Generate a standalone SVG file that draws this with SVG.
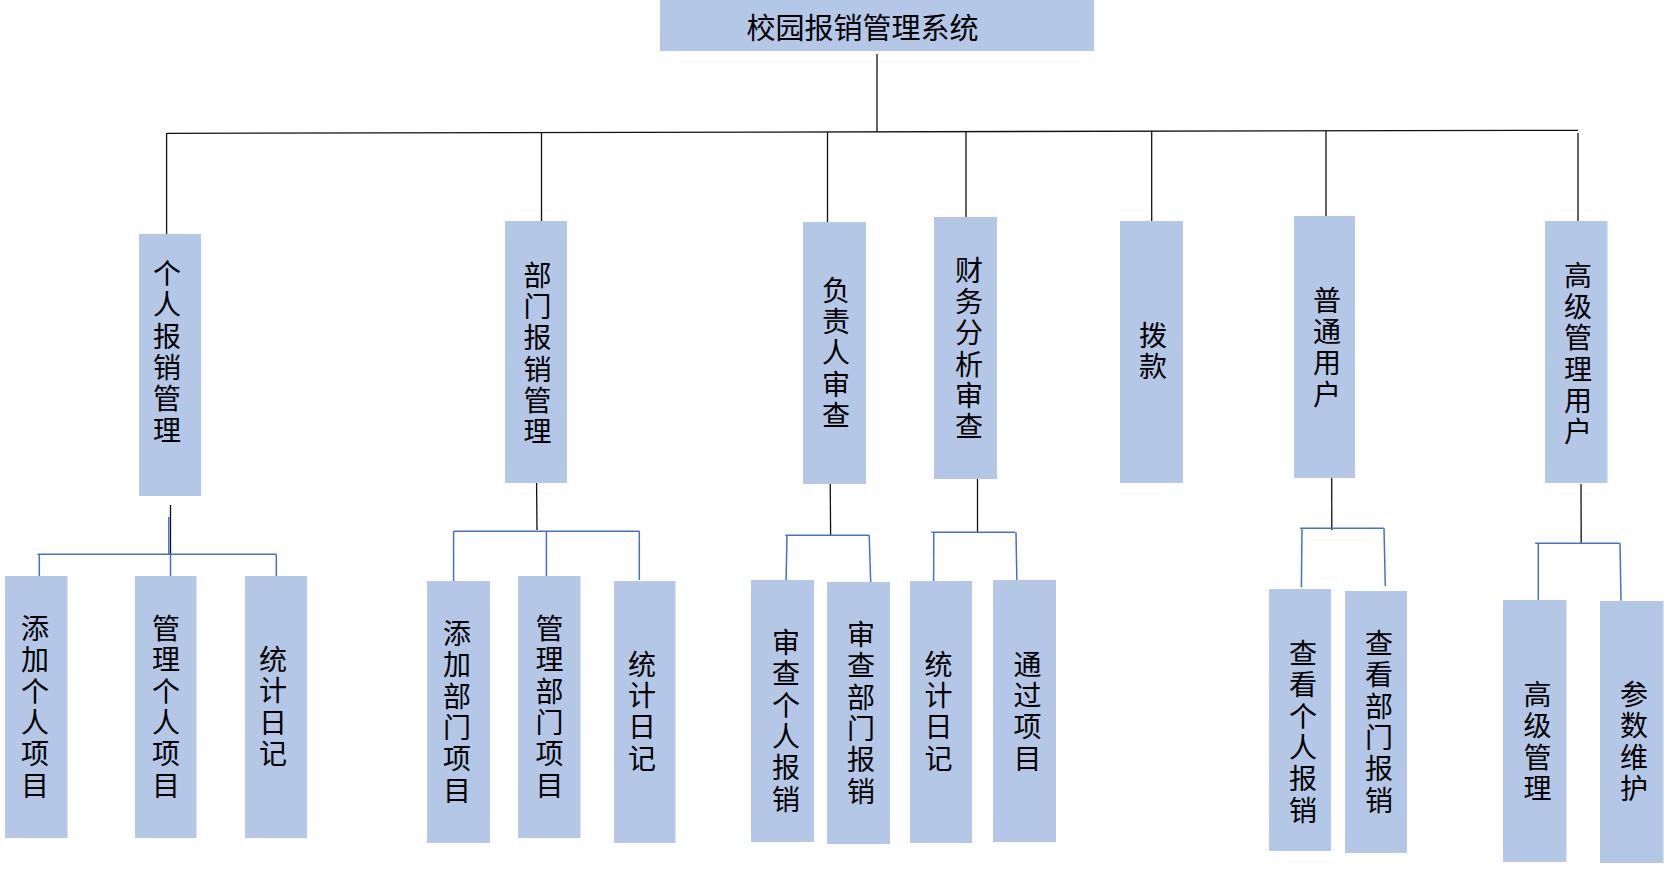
<svg xmlns="http://www.w3.org/2000/svg" width="1675" height="896" viewBox="0 0 1675 896">
<style>
.box{fill:#B4C7E7}
.t{font-family:"Noto Sans CJK SC","Noto Sans CJK TC",sans-serif;font-size:28px;fill:#000;text-anchor:middle}
.v{font-family:"Noto Sans CJK SC","Noto Sans CJK TC",sans-serif;font-size:28px;fill:#000;writing-mode:vertical-rl;text-orientation:upright;letter-spacing:3.3px}
.k{stroke:#111;stroke-width:1.3;fill:none}
.b{stroke:#4472C4;stroke-width:1.5;fill:none}
</style>
<rect width="1675" height="896" fill="#fff"/>
<g id="connectors">
<line class="k" x1="877" y1="54" x2="877" y2="132"/>
<line class="k" x1="167" y1="133.3" x2="1578" y2="130.3"/>
<line class="k" x1="166.6" y1="133" x2="166.6" y2="235"/>
<line class="k" x1="541.5" y1="133" x2="541.5" y2="222"/>
<line class="k" x1="827.5" y1="132" x2="827.5" y2="235"/>
<line class="k" x1="966" y1="132" x2="966" y2="223"/>
<line class="k" x1="1151.7" y1="131" x2="1151.7" y2="222"/>
<line class="k" x1="1326" y1="131" x2="1326" y2="224"/>
<line class="k" x1="1578" y1="133" x2="1578" y2="222"/>
<line class="k" x1="170.5" y1="505" x2="170.5" y2="555"/>
<line class="b" x1="168.8" y1="517" x2="168.8" y2="554"/>
<line class="b" x1="37.5" y1="554.3" x2="276.3" y2="554.3"/>
<line class="b" x1="39.3" y1="554.3" x2="39.3" y2="592.3"/>
<line class="b" x1="170.5" y1="554.3" x2="170.5" y2="593"/>
<line class="b" x1="276.3" y1="554.3" x2="276.3" y2="576.7"/>
<line class="k" x1="536.5" y1="474" x2="537" y2="530"/>
<line class="b" x1="453.6" y1="531.3" x2="639.3" y2="531.3"/>
<line class="b" x1="453.6" y1="531.3" x2="453.6" y2="587.7"/>
<line class="b" x1="546.4" y1="531.3" x2="546.4" y2="577.7"/>
<line class="b" x1="639.3" y1="531.3" x2="639.3" y2="580"/>
<line class="k" x1="830.2" y1="477" x2="830.6" y2="535"/>
<line class="b" x1="785.2" y1="535.3" x2="869.2" y2="535.3"/>
<line class="b" x1="787" y1="535.3" x2="785.8" y2="594.3"/>
<line class="b" x1="869.2" y1="535.3" x2="871" y2="592.7"/>
<line class="k" x1="977.5" y1="474.3" x2="977.5" y2="532.3"/>
<line class="b" x1="931.3" y1="532.3" x2="1015.3" y2="532.3"/>
<line class="b" x1="933.8" y1="532.3" x2="933.6" y2="591"/>
<line class="b" x1="1016" y1="532.3" x2="1017" y2="589.3"/>
<line class="k" x1="1331.7" y1="471.7" x2="1331.8" y2="530"/>
<line class="b" x1="1300.1" y1="528.3" x2="1383.5" y2="528.3"/>
<line class="b" x1="1302" y1="528.3" x2="1301.4" y2="587.3"/>
<line class="b" x1="1384" y1="528.3" x2="1385.3" y2="586"/>
<line class="k" x1="1581" y1="484" x2="1581.2" y2="543.3"/>
<line class="b" x1="1535.2" y1="543.3" x2="1619.8" y2="543.3"/>
<line class="b" x1="1538.3" y1="543.3" x2="1538.3" y2="602.3"/>
<line class="b" x1="1620" y1="543.3" x2="1621" y2="600.7"/>
</g>
<g id="root">
<rect class="box" x="660" y="0" width="434" height="51"/>
<text class="t" x="862.5" y="39" style="font-size:29px">校园报销管理系统</text>
</g>
<g id="n1"><rect class="box" x="139" y="234" width="62" height="262"/><text class="v" x="167" y="259.5">个人报销管理</text></g>
<g id="n2"><rect class="box" x="505" y="221" width="62" height="262"/><text class="v" x="537.5" y="261">部门报销管理</text></g>
<g id="n3"><rect class="box" x="803" y="222" width="63" height="262"/><text class="v" x="836" y="276">负责人审查</text></g>
<g id="n4"><rect class="box" x="934" y="217" width="63" height="262"/><text class="v" x="969" y="256">财务分析审查</text></g>
<g id="n5"><rect class="box" x="1120" y="221" width="63" height="262"/><text class="v" x="1153" y="321">拨款</text></g>
<g id="n6"><rect class="box" x="1294" y="216" width="61" height="262"/><text class="v" x="1327" y="286">普通用户</text></g>
<g id="n7"><rect class="box" x="1545" y="221" width="62.5" height="262"/><text class="v" x="1578" y="261">高级管理用户</text></g>
<g id="c1"><rect class="box" x="5" y="576" width="62.5" height="262"/><text class="v" x="35" y="614.5">添加个人项目</text></g>
<g id="c2"><rect class="box" x="135" y="576" width="61.5" height="262"/><text class="v" x="166" y="614.5">管理个人项目</text></g>
<g id="c3"><rect class="box" x="245" y="576" width="62" height="262"/><text class="v" x="273" y="645.5">统计日记</text></g>
<g id="c4"><rect class="box" x="427" y="581" width="63" height="262"/><text class="v" x="457" y="619.5">添加部门项目</text></g>
<g id="c5"><rect class="box" x="518" y="576" width="62.5" height="262"/><text class="v" x="549.6" y="614.5">管理部门项目</text></g>
<g id="c6"><rect class="box" x="614" y="581" width="61.5" height="262"/><text class="v" x="642" y="650">统计日记</text></g>
<g id="c7"><rect class="box" x="751" y="580" width="63" height="262"/><text class="v" x="786" y="628.5">审查个人报销</text></g>
<g id="c8"><rect class="box" x="827" y="582" width="63" height="262"/><text class="v" x="861" y="620.5">审查部门报销</text></g>
<g id="c9"><rect class="box" x="910" y="581" width="62" height="262"/><text class="v" x="938.5" y="650">统计日记</text></g>
<g id="c10"><rect class="box" x="993" y="580" width="63" height="262"/><text class="v" x="1027.5" y="650">通过项目</text></g>
<g id="c11"><rect class="box" x="1269" y="589" width="62" height="262"/><text class="v" x="1303" y="639.5">查看个人报销</text></g>
<g id="c12"><rect class="box" x="1345" y="591" width="62" height="262"/><text class="v" x="1379" y="629.5">查看部门报销</text></g>
<g id="c13"><rect class="box" x="1503" y="600" width="63.5" height="262"/><text class="v" x="1537.5" y="680.5">高级管理</text></g>
<g id="c14"><rect class="box" x="1600" y="601" width="63.5" height="262"/><text class="v" x="1634" y="680.5">参数维护</text></g>
</svg>
